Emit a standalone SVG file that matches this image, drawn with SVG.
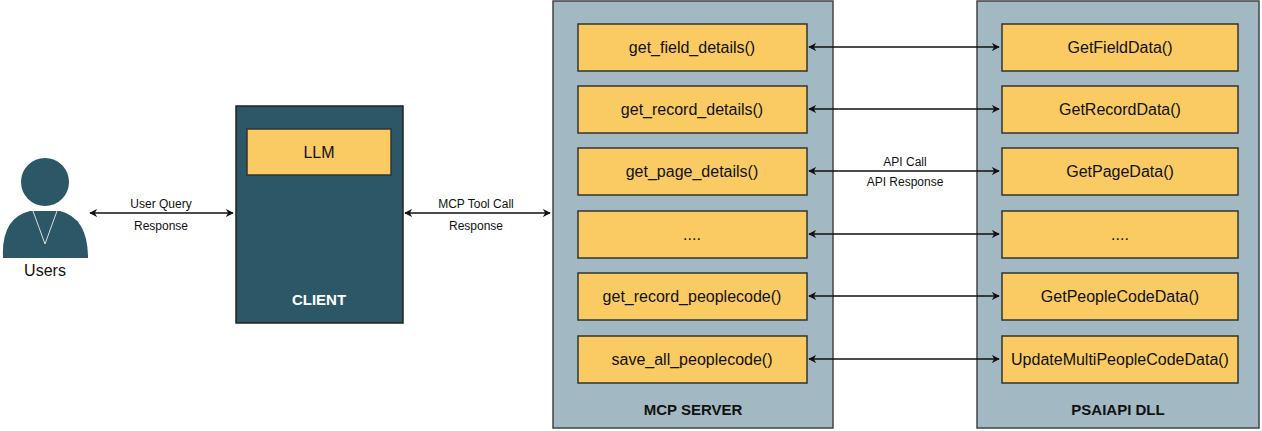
<svg xmlns="http://www.w3.org/2000/svg" width="1262" height="431" viewBox="0 0 1262 431">
<style>
.box{fill:#f9cb62;stroke:#333;stroke-width:1.5}
.cont{fill:#a2b8c2;stroke:#444;stroke-width:1.5}
.t{font-family:"Liberation Sans",Arial,sans-serif;font-size:16px;fill:#111;text-anchor:middle}
.s{font-family:"Liberation Sans",Arial,sans-serif;font-size:12px;fill:#111;text-anchor:middle}
.b{font-family:"Liberation Sans",Arial,sans-serif;font-size:15px;font-weight:bold;text-anchor:middle}
.c{stroke:#111;stroke-width:1.5;fill:none;marker-start:url(#a);marker-end:url(#a)}
</style>
<defs><marker id="a" viewBox="0 0 10 10" refX="9" refY="5" markerWidth="8" markerHeight="8" orient="auto-start-reverse" markerUnits="userSpaceOnUse"><path d="M0,0L10,5L0,10L3,5z" fill="#111"/></marker></defs>
<rect width="1262" height="431" fill="#fff"/>
<g id="users">
<circle cx="45" cy="182" r="24" fill="#2b5766"/>
<path d="M3,258 Q1,218 30,211 L60,211 Q88,218 88,258 Z" fill="#2b5766"/>
<path d="M33,211 L45,244 L57,211" stroke="#ddd" stroke-width="1" fill="none"/>
<text class="t" x="45" y="276">Users</text>
</g>
<g id="client">
<rect x="236" y="106" width="167" height="217" fill="#2b5766" stroke="#222" stroke-width="1.5"/>
<rect class="box" x="247" y="129" width="144" height="46"/>
<text class="t" x="319" y="158">LLM</text>
<text class="b" x="319" y="305" fill="#fff">CLIENT</text>
</g>
<g id="mcp">
<rect class="cont" x="553" y="1" width="280" height="427"/>
<text class="b" x="693" y="415" fill="#111">MCP SERVER</text>
<rect class="box" x="578" y="24" width="229" height="47"/><text class="t" x="692" y="53">get_field_details()</text>
<rect class="box" x="578" y="86" width="229" height="47"/><text class="t" x="692" y="115">get_record_details()</text>
<rect class="box" x="578" y="148" width="229" height="47"/><text class="t" x="692" y="177">get_page_details()</text>
<rect class="box" x="578" y="211" width="229" height="47"/><text class="t" x="692" y="240">....</text>
<rect class="box" x="578" y="273" width="229" height="47"/><text class="t" x="692" y="302">get_record_peoplecode()</text>
<rect class="box" x="578" y="336" width="229" height="47"/><text class="t" x="692" y="365">save_all_peoplecode()</text>
</g>
<g id="psaiapi">
<rect class="cont" x="977" y="1" width="282" height="427"/>
<text class="b" x="1118" y="415" fill="#111">PSAIAPI DLL</text>
<rect class="box" x="1002" y="24" width="236" height="47"/><text class="t" x="1120" y="53">GetFieldData()</text>
<rect class="box" x="1002" y="86" width="236" height="47"/><text class="t" x="1120" y="115">GetRecordData()</text>
<rect class="box" x="1002" y="148" width="236" height="47"/><text class="t" x="1120" y="177">GetPageData()</text>
<rect class="box" x="1002" y="211" width="236" height="47"/><text class="t" x="1120" y="240">....</text>
<rect class="box" x="1002" y="273" width="236" height="47"/><text class="t" x="1120" y="302">GetPeopleCodeData()</text>
<rect class="box" x="1002" y="336" width="236" height="47"/><text class="t" x="1120" y="365">UpdateMultiPeopleCodeData()</text>
</g>
<g id="connectors">
<line class="c" x1="90" y1="213" x2="233" y2="213"/>
<text class="s" x="161" y="208">User Query</text><text class="s" x="161" y="230">Response</text>
<line class="c" x1="405" y1="213" x2="550" y2="213"/>
<text class="s" x="476" y="208">MCP Tool Call</text><text class="s" x="476" y="230">Response</text>
<line class="c" x1="809" y1="47" x2="999" y2="47"/>
<line class="c" x1="809" y1="109" x2="999" y2="109"/>
<line class="c" x1="809" y1="171" x2="999" y2="171"/>
<text class="s" x="905" y="166">API Call</text><text class="s" x="905" y="186">API Response</text>
<line class="c" x1="809" y1="234" x2="999" y2="234"/>
<line class="c" x1="809" y1="296" x2="999" y2="296"/>
<line class="c" x1="809" y1="359" x2="999" y2="359"/>
</g>
</svg>
